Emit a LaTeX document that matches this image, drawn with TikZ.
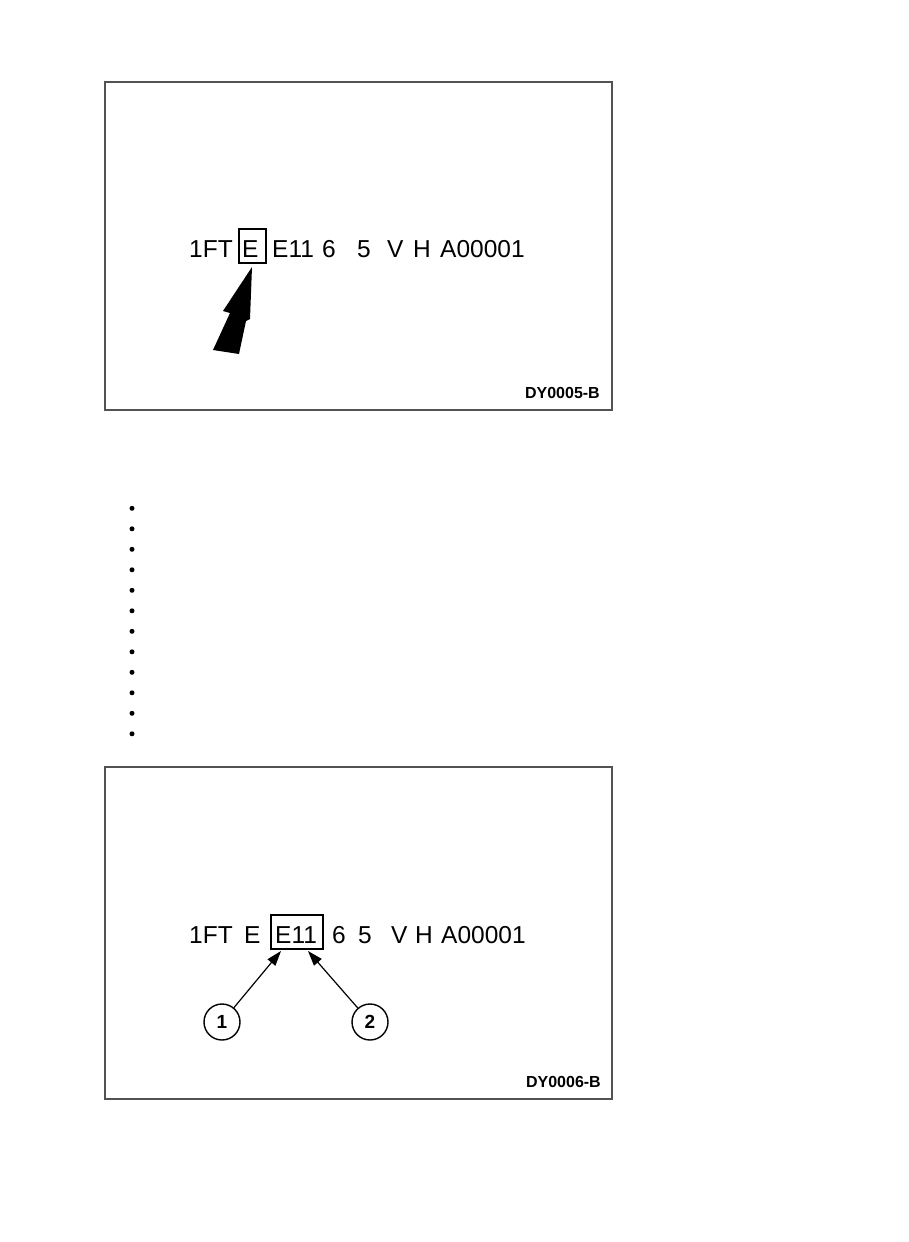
\documentclass[tikz,border=0pt]{standalone}
\usepackage{fontspec}
\setmainfont{Liberation Sans}
\usetikzlibrary{arrows.meta}
\begin{document}
\begin{tikzpicture}[x=1pt,y=-1pt,
  frame/.style={draw=black!68,line width=1.8pt},
  tok/.style={inner sep=0pt,anchor=base west,font=\fontsize{24.5}{28}\selectfont},
  lbl/.style={inner sep=0pt,anchor=base east,font=\fontsize{16}{18}\selectfont\bfseries},
  hbox/.style={draw,line width=1.8pt,inner sep=0pt},
  callout/.style={draw,circle,line width=1.4pt,minimum size=36pt,inner sep=0pt,font=\fontsize{19}{22}\selectfont\bfseries},
  pointer/.style={line width=1.2pt,-{Triangle[length=15pt,width=10pt]}},
  dot/.style={fill,circle,inner sep=0pt,minimum size=5pt}]
\useasboundingbox (0,0) rectangle (909,1242);
\fill[white] (0,0) rectangle (909,1242);
% top figure
\node[frame,minimum width=507pt,minimum height=328pt,inner sep=0pt] (fig1) at (358.5,246) {};
\node[hbox,minimum width=27pt,minimum height=34pt] (boxE) at (252.5,246) {};
\node[tok] (a1) at (189,257) {1FT};
\node[tok] (a2) at (242,257) {E};
\node[tok] (a3) at (272,257) {E11};
\node[tok] (a4) at (322,257) {6};
\node[tok] (a5) at (357,257) {5};
\node[tok] (a6) at (387,257) {V};
\node[tok] (a7) at (413,257) {H};
\node[tok] (a8) at (440,257) {A00001};
\coordinate (tip1) at (252,267);
\fill (tip1) -- (250,319) -- (246,321) -- (239,354) -- (213,350) -- (230,313) -- (223,311) -- cycle;
\node[lbl] (cap1) at (600,398) {DY0005-B};
% bullets
\foreach \i in {0,...,11} {
  \node[dot] (b\i) at (132,{508.3+20.5*\i}) {};
}
% bottom figure
\node[frame,minimum width=507pt,minimum height=332pt,inner sep=0pt] (fig2) at (358.5,933) {};
\node[hbox,minimum width=52pt,minimum height=34pt] (boxE11) at (297,932) {};
\node[tok] (c1t) at (189,943) {1FT};
\node[tok] (c2t) at (244,943) {E};
\node[tok] (c3t) at (275,943) {E11};
\node[tok] (c4t) at (332,943) {6};
\node[tok] (c5t) at (358,943) {5};
\node[tok] (c6t) at (391,943) {V};
\node[tok] (c7t) at (415,943) {H};
\node[tok] (c8t) at (441,943) {A00001};
\node[callout] (n1) at (222,1022) {1};
\node[callout] (n2) at (370,1022) {2};
\coordinate (p1) at (281,951);
\coordinate (p2) at (308,951);
\draw[pointer] (n1) -- (p1);
\draw[pointer] (n2) -- (p2);
\node[lbl] (cap2) at (601,1087) {DY0006-B};
\end{tikzpicture}
\end{document}
